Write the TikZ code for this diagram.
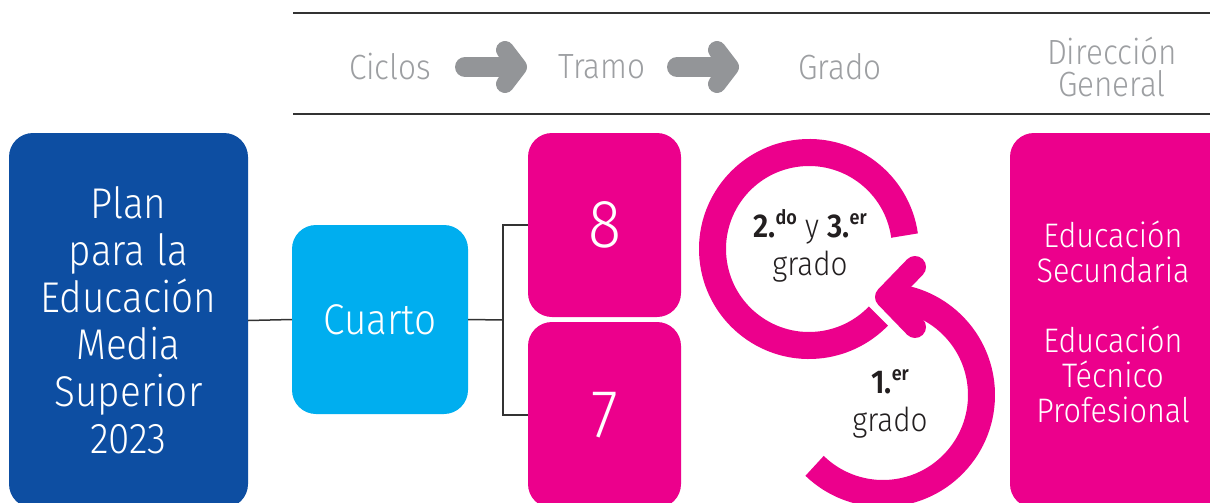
\documentclass[tikz,border=0pt]{standalone}
\usepackage{fontspec}
\setmainfont{Fira Sans Light}[FakeStretch=0.9, BoldFont={Fira Sans SemiBold}]
\definecolor{planblue}{HTML}{0D4EA2}
\definecolor{cyanb}{HTML}{00AEEF}
\definecolor{pinkb}{HTML}{EC008C}
\definecolor{arrowgray}{HTML}{939598}
\definecolor{headgray}{HTML}{9D9FA2}
\definecolor{darktext}{HTML}{231F20}
\definecolor{linegray}{HTML}{333333}
\newcommand{\sz}[2]{\fontsize{#1}{#2}\selectfont}
\newcommand{\supx}[1]{\raisebox{0.75ex}{\sz{20}{20}\bfseries #1}}
\begin{document}
\begin{tikzpicture}[x=1pt,y=-1pt,
  box/.style={rounded corners=24pt, inner sep=0pt, align=center, text=white},
  conn/.style={draw=linegray, line width=1.5pt},
  rule/.style={draw=linegray, line width=2pt},
  hshaft/.style={draw=arrowgray, line width=20pt, line cap=round},
  hhead/.style={draw=arrowgray, line width=18pt, line cap=round, line join=round},
  ring/.style={draw=pinkb, line width=27pt},
  ringhead/.style={draw=pinkb, line width=22pt, line cap=round, line join=round},
  head/.style={text=headgray, font=\sz{35}{32}, align=center, inner sep=0pt},
  gtext/.style={text=darktext, font=\sz{33}{38}, align=center, inner sep=0pt}]
\useasboundingbox (0,0) rectangle (1210,503);
\clip (0,0) rectangle (1210,503);
\fill[white] (0,0) rectangle (1210,503);

% header rules
\coordinate (r1a) at (293,13); \coordinate (r1b) at (1210,13);
\coordinate (r2a) at (293,114); \coordinate (r2b) at (1210,114);
\draw[rule] (r1a) -- (r1b);
\draw[rule] (r2a) -- (r2b);

% header texts
\node[head] (ciclos) at (390,67) {Ciclos};
\node[head] (tramo) at (602,67) {Tramo};
\node[head] (grado) at (840,67) {Grado};
\node[head] (dir) at (1112,67) {Dirección\\General};

% header arrows
\coordinate (a1s) at (465,67); \coordinate (a1e) at (512,67);
\coordinate (a1t) at (505,50); \coordinate (a1p) at (518,67); \coordinate (a1b) at (505,84);
\draw[hshaft] (a1s) -- (a1e);
\draw[hhead] (a1t) -- (a1p) -- (a1b);
\coordinate (a2s) at (677,67); \coordinate (a2e) at (724,67);
\coordinate (a2t) at (717,50); \coordinate (a2p) at (730,67); \coordinate (a2b) at (717,84);
\draw[hshaft] (a2s) -- (a2e);
\draw[hhead] (a2t) -- (a2p) -- (a2b);

% boxes
\node[box, fill=planblue, minimum width=239pt, minimum height=375pt, font=\sz{43}{47}] (plan) at (128.5,320.5)
  {Plan\\para la\\Educación\\Media\\Superior\\2023};
\node[box, fill=cyanb, minimum width=176pt, minimum height=189pt, font=\sz{43}{47}] (cuarto) at (380,319.5) {Cuarto};
\node[box, fill=pinkb, minimum width=153pt, minimum height=184pt, font=\sz{68}{70}] (b8) at (604.5,225) {8};
\node[box, fill=pinkb, minimum width=153pt, minimum height=186pt, font=\sz{68}{70}] (b7) at (604.5,415) {7};
\node[box, fill=pinkb, minimum width=225pt, minimum height=375pt] (dg) at (1122.5,320.5) {};
\node[text=white, font=\sz{34}{35}, align=center, inner sep=0pt] (dgtext) at (1113,321.5)
  {Educación\\Secundaria\\[35pt]Educación\\Técnico\\Profesional};

% connectors
\coordinate (brk) at (503,320);
\draw[conn] (plan.east) -- (cuarto.west);
\draw[conn] (cuarto.east) -- (brk);
\draw[conn] (b8.west) -| (brk) |- (b7.west);

% rings
\coordinate (c1) at (809,249);
\coordinate (c2) at (883,395);
\draw[ring] (c1) ++(-8:96.5) arc[start angle=-8, end angle=-316, radius=96.5];
\draw[ring] (c2) ++(-226:98.5) arc[start angle=-226, end angle=-448, radius=98.5];
\coordinate (h1) at (915,267); \coordinate (hp) at (886,297); \coordinate (h2) at (915,327);
\draw[ringhead] (h1) -- (hp) -- (h2);

% ring texts
\node[gtext] (g23) at (810,246) {\textbf{2.}\supx{do} y \textbf{3.}\supx{er}\\grado};
\node[gtext] (g1) at (890,404) {\textbf{1.}\supx{er}\\grado};
\end{tikzpicture}
\end{document}
